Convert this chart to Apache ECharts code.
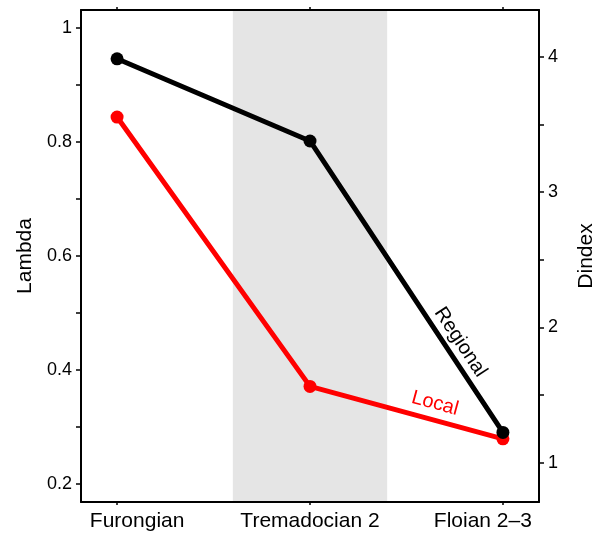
<!DOCTYPE html>
<html>
<head>
<meta charset="utf-8">
<script src="https://cdn.jsdelivr.net/npm/echarts@6/dist/echarts.min.js"></script>
<style>
  html, body { margin: 0; padding: 0; background: #fff; }
  #chart { width: 597px; height: 533px; }
</style>
</head>
<body>
<div id="chart"></div>
<script>
// data
const stages = ['Furongian', 'Tremadocian 2', 'Floian 2–3'];
const stageLabelAt = [1.104, 2, 2.896];
const lambdaLocal = [0.844, 0.371, 0.279];
const dindexRegional = [3.987, 3.379, 1.223];
const lambdaTicks = [0.2, 0.3, 0.4, 0.5, 0.6, 0.7, 0.8, 0.9, 1];
const lambdaLabels = [0.2, 0.4, 0.6, 0.8, 1];
const dindexTicks = [1, 1.5, 2, 2.5, 3, 3.5, 4];
const dindexLabels = [1, 2, 3, 4];
const shadedStage = [1.6, 2.4];

const FONT = '"Liberation Sans", Arial, Helvetica, sans-serif';
const chart = echarts.init(document.getElementById('chart'));

const frameLine = { show: true, lineStyle: { color: '#000', width: 2 } };

const option = {
  animation: false,
  grid: { left: 81, right: 58, top: 10, bottom: 31, show: false, containLabel: false, outerBoundsMode: 'none' },
  xAxis: [
    {
      type: 'value', min: 0.813, max: 3.187, z: 10,
      axisLine: frameLine,
      splitLine: { show: false },
      axisTick: { show: true, length: 3, customValues: [1, 2, 3], lineStyle: { color: '#000', width: 1.5 } },
      axisLabel: {
        customValues: stageLabelAt, margin: 9,
        color: '#000', fontSize: 21, fontFamily: FONT,
        formatter: v => stages[Math.round(v) - 1]
      }
    },
    {
      type: 'value', position: 'top', min: 0.813, max: 3.187, z: 10,
      axisLine: frameLine,
      splitLine: { show: false },
      axisTick: { show: true, length: 3, customValues: [1, 2, 3], lineStyle: { color: '#000', width: 1.5 } },
      axisLabel: { show: false }
    }
  ],
  yAxis: [
    {
      type: 'value', min: 0.168, max: 1.032, z: 10,
      name: 'Lambda', nameLocation: 'middle', nameGap: 44, nameRotate: 90,
      nameTextStyle: { color: '#000', fontSize: 21, fontFamily: FONT },
      axisLine: frameLine,
      splitLine: { show: false },
      axisTick: { show: true, length: 5, customValues: lambdaTicks, lineStyle: { color: '#000', width: 1.5 } },
      axisLabel: {
        customValues: lambdaLabels, margin: 9,
        color: '#000', fontSize: 18, fontFamily: FONT
      }
    },
    {
      type: 'value', min: 0.708, max: 4.348, z: 10, position: 'right',
      name: 'Dindex', nameLocation: 'middle', nameGap: 37, nameRotate: 90,
      nameTextStyle: { color: '#000', fontSize: 21, fontFamily: FONT },
      axisLine: frameLine,
      splitLine: { show: false },
      axisTick: { show: true, length: 5, customValues: dindexTicks, lineStyle: { color: '#000', width: 1.5 } },
      axisLabel: {
        customValues: dindexLabels, margin: 9,
        color: '#000', fontSize: 18, fontFamily: FONT
      }
    }
  ],
  series: [
    {
      name: 'Local', type: 'line', xAxisIndex: 0, yAxisIndex: 0,
      data: lambdaLocal.map((v, i) => [i + 1, v]),
      symbol: 'circle', symbolSize: 13,
      lineStyle: { color: '#ff0000', width: 5 },
      itemStyle: { color: '#ff0000' },
      markArea: {
        silent: true,
        itemStyle: { color: '#e5e5e5' },
        data: [[{ xAxis: shadedStage[0] }, { xAxis: shadedStage[1] }]]
      }
    },
    {
      name: 'Regional', type: 'line', xAxisIndex: 0, yAxisIndex: 1,
      data: dindexRegional.map((v, i) => [i + 1, v]),
      symbol: 'circle', symbolSize: 13,
      lineStyle: { color: '#000', width: 5 },
      itemStyle: { color: '#000' }
    }
  ]
};

chart.setOption(option);

// line labels, placed in data space and turned to follow their segment
function segAngle(yIdx, a, b) {
  const p = chart.convertToPixel({ xAxisIndex: 0, yAxisIndex: yIdx }, a);
  const q = chart.convertToPixel({ xAxisIndex: 0, yAxisIndex: yIdx }, b);
  return -Math.atan2(q[1] - p[1], q[0] - p[0]);
}
function lineText(text, color, yIdx, at, rot) {
  const pos = chart.convertToPixel({ xAxisIndex: 0, yAxisIndex: yIdx }, at);
  return {
    type: 'text', x: pos[0], y: pos[1], rotation: rot, z: 20,
    style: { text: text, fill: color, font: '20px ' + FONT, align: 'center', verticalAlign: 'middle' }
  };
}

chart.setOption({
  graphic: [
    lineText('Regional', '#000', 1, [2.78, 1.89],
      segAngle(1, [2, dindexRegional[1]], [3, dindexRegional[2]])),
    lineText('Local', '#ff0000', 0, [2.648, 0.341],
      segAngle(0, [2, lambdaLocal[1]], [3, lambdaLocal[2]]))
  ]
});
</script>
</body>
</html>
